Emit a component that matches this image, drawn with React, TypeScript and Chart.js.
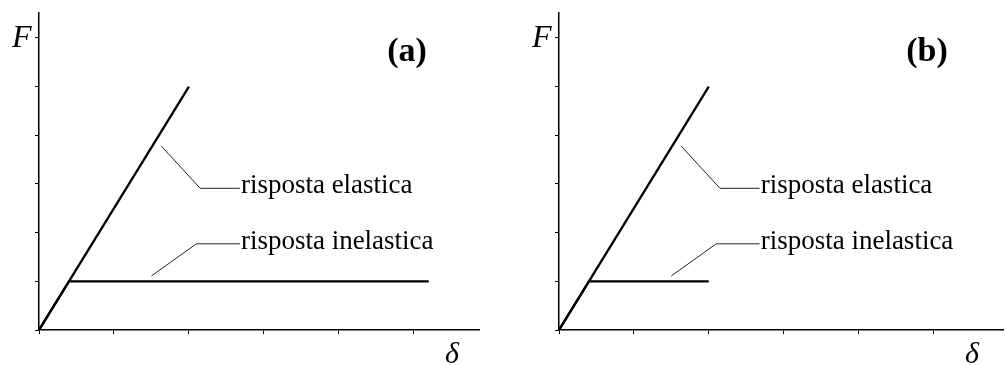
import React, { useEffect, useRef } from "react";
import { Chart, registerables } from "chart.js";

Chart.register(...registerables);

// Axis ticks (in units of displacement δ and force F)
const deltaTicks = [0, 1, 2, 3, 4, 5];
const forceTicks = [0, 1, 2, 3, 4, 5, 6];
const deltaMaxA = 5.87;
const deltaMaxB = 5.93;
const forceMax = 6.51;

// Elastic response (same in both panels)
const elasticDelta = [0, 2];
const elasticForce = [0, 5];

// Inelastic response, panel (a): long plastic plateau
const inelasticDeltaA = [0, 0.4, 5.2];
const inelasticForceA = [0, 1, 1];

// Inelastic response, panel (b): plateau up to the elastic peak displacement
const inelasticDeltaB = [0, 0.4, 2];
const inelasticForceB = [0, 1, 1];

// Leader lines for the annotations
const leaderElasticDelta = [1.63, 2.15, 2.68];
const leaderElasticForce = [3.78, 2.91, 2.91];
const leaderInelasticDelta = [1.5, 2.1, 2.68];
const leaderInelasticForce = [1.11, 1.77, 1.77];

const elasticLabel = "risposta elastica";
const inelasticLabel = "risposta inelastica";
const forceLabel = "F";
const deltaLabel = "δ";

const SERIF = '"Liberation Serif", "Times New Roman", serif';

const pts = (xs: number[], ys: number[]) => xs.map((x, i) => ({ x, y: ys[i] }));

type PanelProps = {
  tag: string;
  plateauDelta: number[];
  plateauForce: number[];
  deltaMax: number;
  width: number;
  padRight: number;
};

function Panel({ tag, plateauDelta, plateauForce, deltaMax, width, padRight }: PanelProps) {
  const ref = useRef<HTMLCanvasElement | null>(null);

  useEffect(() => {
    if (!ref.current) return;

    const annotations = {
      id: "annotations",
      afterDatasetsDraw(chart: any) {
        const { ctx, scales, chartArea } = chart;
        const xs = scales.x;
        const ys = scales.y;
        ctx.save();
        ctx.fillStyle = "#000";
        ctx.textBaseline = "alphabetic";

        // leader labels
        ctx.font = `27px ${SERIF}`;
        ctx.textAlign = "left";
        const le = leaderElasticDelta.length - 1;
        ctx.fillText(
          elasticLabel,
          xs.getPixelForValue(leaderElasticDelta[le]) + 1,
          ys.getPixelForValue(leaderElasticForce[le]) + 5
        );
        const li = leaderInelasticDelta.length - 1;
        ctx.fillText(
          inelasticLabel,
          xs.getPixelForValue(leaderInelasticDelta[li]) + 1,
          ys.getPixelForValue(leaderInelasticForce[li]) + 5
        );

        // axis names
        ctx.font = `italic 32px ${SERIF}`;
        ctx.textAlign = "left";
        ctx.fillText(forceLabel, chartArea.left - 27, chartArea.top + 34);
        ctx.font = `italic 30px ${SERIF}`;
        ctx.textAlign = "center";
        ctx.fillText(deltaLabel, chartArea.left + 413, chartArea.bottom + 33);

        // panel tag
        ctx.font = `bold 34px ${SERIF}`;
        ctx.textAlign = "center";
        ctx.fillText(tag, chartArea.left + 368, chartArea.top + 48);
        ctx.restore();
      },
    };

    const thick = { borderColor: "#000", borderWidth: 2.3, pointRadius: 0, showLine: true, fill: false };
    const thin = { borderColor: "#222", borderWidth: 1, pointRadius: 0, showLine: true, fill: false };

    const chart = new Chart(ref.current, {
      type: "scatter",
      data: {
        datasets: [
          { ...thick, data: pts(elasticDelta, elasticForce) },
          { ...thick, data: pts(plateauDelta, plateauForce) },
          { ...thin, data: pts(leaderElasticDelta, leaderElasticForce) },
          { ...thin, data: pts(leaderInelasticDelta, leaderInelasticForce) },
        ],
      },
      options: {
        responsive: false,
        animation: false,
        devicePixelRatio: 1,
        events: [],
        layout: { padding: { left: 35, top: 13, right: padRight, bottom: 31 } },
        plugins: { legend: { display: false }, tooltip: { enabled: false } },
        scales: {
          x: {
            type: "linear",
            min: 0,
            max: deltaMax,
            afterBuildTicks: (s: any) => {
              s.ticks = deltaTicks.map((v) => ({ value: v }));
            },
            ticks: { display: false },
            grid: { drawOnChartArea: false, drawTicks: true, tickLength: 4, color: "#000", lineWidth: 1 },
            border: { display: true, color: "#000", width: 1.5 },
          },
          y: {
            type: "linear",
            min: 0,
            max: forceMax,
            afterBuildTicks: (s: any) => {
              s.ticks = forceTicks.map((v) => ({ value: v }));
            },
            ticks: { display: false },
            grid: { drawOnChartArea: false, drawTicks: true, tickLength: 4, color: "#000", lineWidth: 1 },
            border: { display: true, color: "#000", width: 1.5 },
          },
        },
      },
      plugins: [annotations],
    } as any);

    return () => chart.destroy();
  }, [tag, plateauDelta, plateauForce, deltaMax, width, padRight]);

  return <canvas ref={ref} width={width} height={365} style={{ display: "block" }} />;
}

export default function App() {
  return (
    <div style={{ position: "absolute", left: 0, top: 0, width: 1006, height: 365, background: "#fff", display: "flex" }}>
      <Panel tag="(a)" plateauDelta={inelasticDeltaA} plateauForce={inelasticForceA} deltaMax={deltaMaxA} width={520} padRight={41} />
      <Panel tag="(b)" plateauDelta={inelasticDeltaB} plateauForce={inelasticForceB} deltaMax={deltaMaxB} width={486} padRight={3} />
    </div>
  );
}
